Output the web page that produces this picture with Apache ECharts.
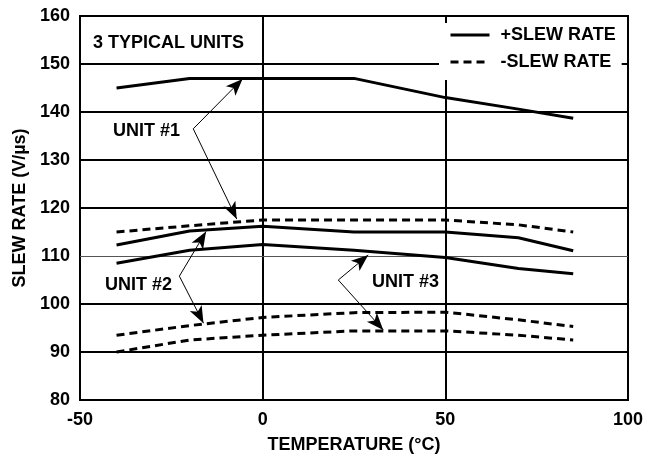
<!DOCTYPE html>
<html>
<head>
<meta charset="utf-8">
<script src="https://cdn.jsdelivr.net/npm/echarts@6/dist/echarts.min.js"></script>
<style>
  html, body {margin: 0; padding: 0; background: #fff;}
  #chart {width: 659px; height: 459px;}
</style>
</head>
<body>
<div id="chart"></div>
<script>
// temperature points, deg C
var temps = [-40, -20, 0, 25, 50, 70, 85];
// slew rate (V/us) for the 3 typical units
var unit1Pos = [145, 147, 147, 147, 143, 140.6, 138.7];
var unit1Neg = [115, 116.3, 117.5, 117.5, 117.5, 116.5, 115];
var unit2Pos = [112.3, 115.2, 116.2, 115, 115, 113.8, 111.1];
var unit2Neg = [93.5, 95.5, 97.2, 98.2, 98.3, 96.7, 95.3];
var unit3Pos = [108.5, 111.2, 112.4, 111.2, 109.7, 107.4, 106.3];
var unit3Neg = [90, 92.5, 93.5, 94.4, 94.4, 93.5, 92.5];

var xTicks = [-50, 0, 50, 100];
var yTicks = [80, 90, 100, 110, 120, 130, 140, 150, 160];
var thinGridValue = 110;   // this one is drawn thin in the original

// callout arrows, [from, to] in data coords
var unitArrows = [
  [[-19, 136.5], [-5.5, 146.9]],
  [[-19, 136.5], [-7.1, 117.7]],
  [[-22.8, 105.8], [-15.5, 115.1]],
  [[-22.8, 105.8], [-16.2, 96.0]],
  [[20.7, 105], [28.9, 110.2]],
  [[20.7, 105], [33, 94.6]]
];

var FONT = "'Liberation Sans', Arial, Helvetica, sans-serif";

function zip(xs, ys) {
  return xs.map(function (x, i) { return [x, ys[i]]; });
}

function lineSeries(name, values, dashed) {
  return {
    name: name,
    type: 'line',
    z: 3,
    symbol: 'none',
    silent: true,
    itemStyle: {color: '#000'},
    lineStyle: {
      color: '#000',
      width: 3,
      type: dashed ? [8, 5] : 'solid',
      cap: 'butt'
    },
    data: zip(temps, values)
  };
}

var chart = echarts.init(document.getElementById('chart'));

var option = {
  animation: false,
  backgroundColor: '#fff',
  textStyle: {fontFamily: FONT},
  grid: {
    left: 80, right: 31, top: 16, bottom: 59,
    show: true, borderColor: '#000', borderWidth: 2, backgroundColor: 'transparent'
  },
  legend: {
    data: ['+SLEW RATE', '-SLEW RATE'],
    orient: 'vertical',
    left: 439, top: 23,
    padding: [3, 6, 9, 10],
    itemWidth: 39, itemHeight: 14, itemGap: 9,
    backgroundColor: '#fff',
    selectedMode: false,
    itemStyle: {color: 'rgba(0,0,0,0)', borderWidth: 0, opacity: 0},   // line only, no dot
    lineStyle: {width: 3, color: '#000'},
    textStyle: {fontFamily: FONT, fontWeight: 'bold', fontSize: 18, color: '#000', padding: [0, 0, 0, 6]}
  },
  xAxis: {
    type: 'value',
    min: -50, max: 100, interval: 50,
    name: 'TEMPERATURE (°C)',
    nameLocation: 'middle',
    nameGap: 36,
    nameTextStyle: {fontFamily: FONT, fontWeight: 'bold', fontSize: 18, color: '#000'},
    axisLine: {show: true, lineStyle: {color: '#000', width: 2}},
    axisTick: {show: false},
    axisLabel: {fontFamily: FONT, fontWeight: 'bold', fontSize: 18, color: '#000', margin: 11,
      formatter: function (v) { return xTicks.indexOf(v) >= 0 ? String(v) : ''; }},
    splitLine: {show: true, lineStyle: {color: '#000', width: 2}}
  },
  yAxis: {
    type: 'value',
    min: 80, max: 160, interval: 10,
    name: 'SLEW RATE (V/\u00b5s)',
    nameLocation: 'middle',
    nameGap: 50,
    nameTextStyle: {fontFamily: FONT, fontWeight: 'bold', fontSize: 18, color: '#000'},
    axisLine: {show: true, lineStyle: {color: '#000', width: 2}},
    axisTick: {show: false},
    axisLabel: {fontFamily: FONT, fontWeight: 'bold', fontSize: 18, color: '#000', margin: 10},
    splitLine: {show: false}   // drawn below as markLines so 110 can be thin
  },
  graphic: [
    {type: 'text', left: 93, top: 34, z: 10,
      style: {text: '3 TYPICAL UNITS', font: 'bold 18px ' + FONT, fill: '#000'}},
    {type: 'text', left: 113, top: 122, z: 10,
      style: {text: 'UNIT #1', font: 'bold 18px ' + FONT, fill: '#000'}},
    {type: 'text', left: 105, top: 276, z: 10,
      style: {text: 'UNIT #2', font: 'bold 18px ' + FONT, fill: '#000'}},
    {type: 'text', left: 372, top: 273, z: 10,
      style: {text: 'UNIT #3', font: 'bold 18px ' + FONT, fill: '#000'}}
  ],
  series: [
    {   // horizontal grid
      name: 'grid',
      type: 'line',
      z: 1,
      silent: true,
      data: [],
      markLine: {
        silent: true,
        z: 1,
        symbol: ['none', 'none'],
        label: {show: false},
        emphasis: {disabled: true},
        data: yTicks.map(function (v) {
          var thin = v === thinGridValue;
          return {yAxis: v, lineStyle: {type: 'solid', color: thin ? '#555' : '#000', width: thin ? 1 : 2}};
        })
      }
    },
    lineSeries('+SLEW RATE', unit1Pos, false),
    lineSeries('-SLEW RATE', unit1Neg, true),
    lineSeries('+SLEW RATE', unit2Pos, false),
    lineSeries('-SLEW RATE', unit2Neg, true),
    lineSeries('+SLEW RATE', unit3Pos, false),
    lineSeries('-SLEW RATE', unit3Neg, true),
    {   // callout arrows
      name: 'arrows',
      type: 'line',
      z: 5,
      silent: true,
      data: [],
      markLine: {
        silent: true,
        symbol: ['none', 'arrow'],
        symbolSize: [10, 17],
        label: {show: false},
        emphasis: {disabled: true},
        lineStyle: {type: 'solid', color: '#000', width: 1},
        data: unitArrows.map(function (a) {
          return [{coord: a[0]}, {coord: a[1]}];
        })
      }
    }
  ]
};

chart.setOption(option);
</script>
</body>
</html>
